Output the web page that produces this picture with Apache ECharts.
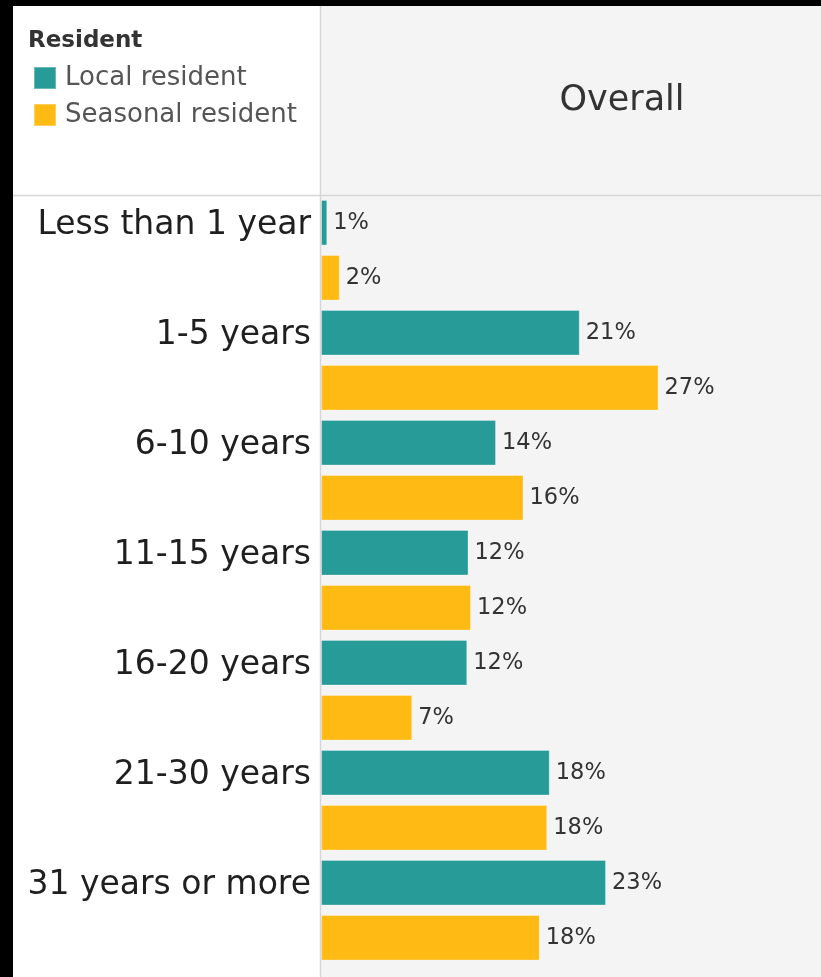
<!DOCTYPE html>
<html>
<head>
<meta charset="utf-8">
<script src="https://cdn.jsdelivr.net/npm/echarts@6/dist/echarts.min.js"></script>
<style>
  html, body { margin: 0; padding: 0; background: #000; }
  #bg { position: absolute; left: 13px; top: 6px; width: 808px; height: 971px;
        background: linear-gradient(to right, #ffffff 0px, #ffffff 307px, #f4f4f4 307px, #f4f4f4 808px); }
  #chart { position: absolute; left: 0; top: 0; width: 821px; height: 977px; }
</style>
</head>
<body>
<div id="bg"></div>
<div id="chart"></div>
<script>
// ---- data ----
const categories = ['Less than 1 year', '1-5 years', '6-10 years', '11-15 years', '16-20 years', '21-30 years', '31 years or more'];
const seriesNames = ['Local resident', 'Seasonal resident'];
const localValues = [0.5, 20.7, 14.0, 11.8, 11.7, 18.3, 22.8];
const seasonalValues = [1.5, 27.0, 16.2, 12.0, 7.3, 18.1, 17.5];
const legendTitle = 'Resident';
const columnHeader = 'Overall';

// ---- chart ----
const TEAL = '#279b98';
const YELLOW = '#ffba13';
const FONT = 'DejaVu Sans';

const chart = echarts.init(document.getElementById('chart'), null, { renderer: 'canvas' });

const labelStyle = {
  show: true,
  position: 'right',
  distance: 6,
  fontSize: 22.5,
  color: '#333333',
  fontFamily: FONT,
  formatter: p => Math.round(p.value) + '%'
};

const option = {
  backgroundColor: 'transparent',
  animation: false,
  textStyle: { fontFamily: FONT },
  legend: {
    data: seriesNames,
    orient: 'vertical',
    left: 33,
    top: 65,
    padding: 0,
    itemWidth: 22,
    itemHeight: 22,
    itemGap: 11,
    icon: 'rect',
    selectedMode: false,
    textStyle: { fontSize: 26, lineHeight: 22, color: '#555555', fontFamily: FONT, padding: [0, 0, 0, 4] }
  },
  grid: { left: 321, right: 0, top: 195.25, height: 770, containLabel: false },
  xAxis: { type: 'value', min: 0, max: 40, show: false },
  yAxis: {
    type: 'category',
    data: categories,
    inverse: true,
    axisLine: { show: false },
    axisTick: { show: false },
    splitLine: { show: false },
    axisLabel: {
      margin: 10,
      fontSize: 33,
      lineHeight: 49,
      color: '#1f1f1f',
      fontFamily: FONT,
      verticalAlign: 'middle',
      formatter: v => v + '\n '
    }
  },
  series: [
    {
      name: seriesNames[0],
      type: 'bar',
      data: localValues,
      barWidth: 45.5,
      barGap: '21%',
      itemStyle: { color: TEAL, borderColor: 'rgba(255,255,255,0.3)', borderWidth: 1 },
      label: labelStyle
    },
    {
      name: seriesNames[1],
      type: 'bar',
      data: seasonalValues,
      barWidth: 45.5,
      barGap: '21%',
      itemStyle: { color: YELLOW, borderColor: 'rgba(255,255,255,0.3)', borderWidth: 1 },
      label: labelStyle
    }
  ],
  graphic: [
    { type: 'line', silent: true, z: 10,
      shape: { x1: 13, y1: 195.5, x2: 821, y2: 195.5 },
      style: { stroke: '#d6d6d6', lineWidth: 1.5 } },
    { type: 'line', silent: true, z: 10,
      shape: { x1: 320.5, y1: 6, x2: 320.5, y2: 977 },
      style: { stroke: '#d6d6d6', lineWidth: 1.5 } },
    { type: 'text', silent: true, x: 28, y: 41,
      style: { text: legendTitle, fontSize: 23, fontWeight: 'bold', fill: '#333333',
               fontFamily: FONT, align: 'left', verticalAlign: 'middle' } },
    { type: 'text', silent: true, x: 622, y: 101,
      style: { text: columnHeader, fontSize: 35, fill: '#333333',
               fontFamily: FONT, align: 'center', verticalAlign: 'middle' } }
  ]
};

chart.setOption(option);
</script>
</body>
</html>
